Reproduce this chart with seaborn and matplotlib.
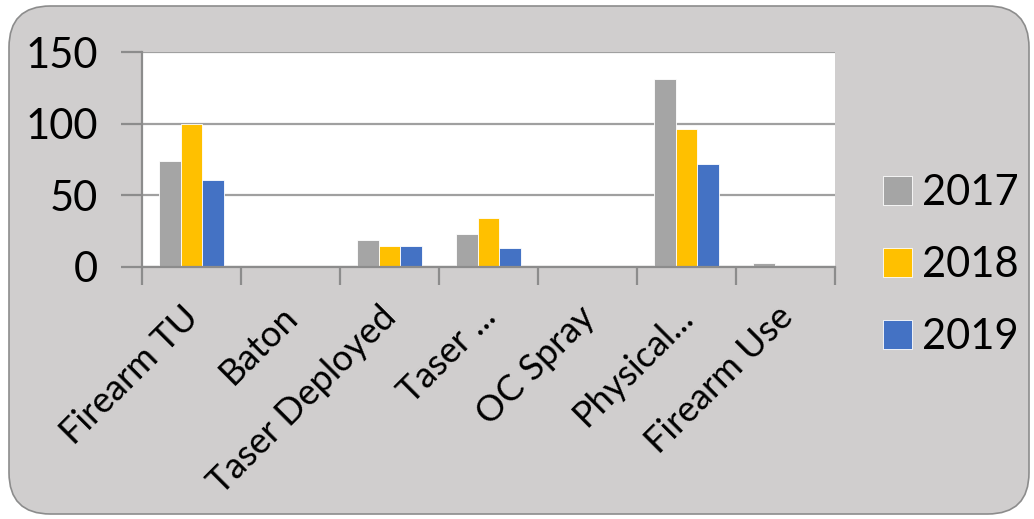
import matplotlib
matplotlib.use("Agg")
import matplotlib.pyplot as plt
from matplotlib.patches import FancyBboxPatch
from matplotlib.transforms import ScaledTranslation
import pandas as pd
import seaborn as sns

categories = ["Firearm TU", "Baton", "Taser Deployed", "Taser ...", "OC Spray", "Physical...", "Firearm Use"]
years = ["2017", "2018", "2019"]
values_2017 = [74, 0, 19, 23, 0, 131, 3]
values_2018 = [100, 0, 15, 34, 0, 96, 0.6]
values_2019 = [61, 1, 15, 13, 0, 72, 0.8]
y_ticks = [0, 50, 100, 150]

colors = {"2017": "#A5A5A5", "2018": "#FFC000", "2019": "#4472C4"}

df = pd.DataFrame({
    "category": categories * 3,
    "year": [y for y in years for _ in categories],
    "value": values_2017 + values_2018 + values_2019,
})

sns.set_theme(style="white")
plt.rcParams["font.family"] = ["Lato", "DejaVu Sans"]
plt.rcParams["text.color"] = "black"
plt.rcParams["xtick.color"] = "black"
plt.rcParams["ytick.color"] = "black"

fig = plt.figure(figsize=(10.34, 5.19), dpi=100, facecolor="white")

# rounded chart-area frame, kept behind the axes
frame = FancyBboxPatch((9 / 1034, 5 / 519), 1020 / 1034, 508 / 519,
                       boxstyle="round,pad=0,rounding_size=0.04",
                       transform=fig.transFigure, facecolor="#D0CECE",
                       edgecolor="#8C8C8C", linewidth=1.2, zorder=-10,
                       mutation_aspect=1034 / 519)
fig.patches.append(frame)

ax = fig.add_axes([142 / 1034, (519 - 267) / 519, (835 - 142) / 1034, (267 - 52) / 519])
ax.set_facecolor("white")

sns.barplot(data=df, x="category", y="value", hue="year", order=categories,
            hue_order=years, palette=colors, saturation=1, width=0.66,
            edgecolor="white", linewidth=0.6, ax=ax, legend=True)

ax.set_ylim(0, 150)
ax.set_xlim(-0.5, len(categories) - 0.5)
ax.set_yticks(y_ticks)
ax.yaxis.grid(True, color="#A0A0A0", linewidth=1.6)
ax.set_axisbelow(True)
ax.set_xlabel("")
ax.set_ylabel("")

for side in ["top", "right"]:
    ax.spines[side].set_visible(False)
for side in ["left", "bottom"]:
    ax.spines[side].set_color("#8C8C8C")
    ax.spines[side].set_linewidth(1.6)

ax.tick_params(axis="y", which="major", direction="out", length=15, width=1.6,
               color="#8C8C8C", labelcolor="black", labelsize=30, pad=17, left=True)
ax.set_xticks([i + 0.5 for i in range(-1, len(categories))], minor=True)
ax.set_xticks(range(len(categories)))
ax.tick_params(axis="x", which="minor", direction="out", length=13, width=1.6,
               color="#8C8C8C", bottom=True)
ax.tick_params(axis="x", which="major", length=0, pad=24, labelcolor="black")
ax.set_xticklabels(categories, rotation=45, ha="right", va="top",
                   rotation_mode="anchor", fontsize=26)
shift = ScaledTranslation(-10 / 100, 0, fig.dpi_scale_trans)
for lbl in ax.get_xticklabels():
    lbl.set_transform(lbl.get_transform() + shift)

handles, labels = ax.get_legend_handles_labels()
leg = fig.legend(handles, labels, loc="center left", bbox_to_anchor=(845 / 1034, 254 / 519),
                 frameon=False, fontsize=30,
                 handlelength=0.7, handleheight=0.7, handletextpad=0.25,
                 labelspacing=0.82)
for t in leg.get_texts():
    t.set_color("black")
if ax.get_legend() is not None:
    ax.get_legend().remove()

fig.savefig("out.png", dpi=100, facecolor="white")
